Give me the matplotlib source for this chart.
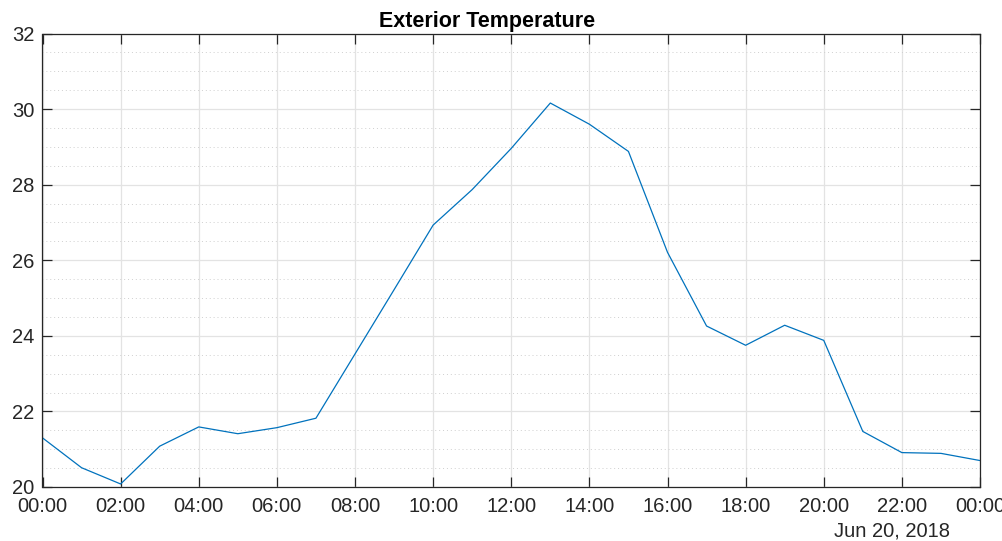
import datetime as dt
import matplotlib
matplotlib.use("Agg")
import matplotlib.pyplot as plt
import matplotlib.dates as mdates
from matplotlib.ticker import MultipleLocator

# hourly readings, Jun 20 2018 00:00 .. Jun 21 00:00
start = dt.datetime(2018, 6, 20, 0, 0)
hours = list(range(25))
temps = [21.30, 20.51, 20.08, 21.08, 21.59, 21.41, 21.57, 21.82, 23.52, 25.22,
         26.93, 27.87, 28.96, 30.16, 29.60, 28.88, 26.21, 24.26, 23.75, 24.28,
         23.88, 21.47, 20.91, 20.89, 20.70]
times = [start + dt.timedelta(hours=h) for h in hours]

plt.rcParams['font.family'] = ['Liberation Sans', 'DejaVu Sans']
axcol = '#262626'

fig = plt.figure(figsize=(10.03, 5.41), dpi=100)
ax = fig.add_axes([42.5 / 1003, 54 / 541, (980 - 42.5) / 1003, (487 - 33.5) / 541])

ax.plot(times, temps, color='#0072BD', linewidth=0.9)

ax.set_xlim(times[0], times[-1])
ax.set_ylim(20, 32)
ax.xaxis.set_major_locator(mdates.HourLocator(byhour=range(0, 24, 2)))
ax.xaxis.set_major_formatter(mdates.DateFormatter('%H:%M'))
ax.yaxis.set_major_locator(MultipleLocator(2))
ax.yaxis.set_minor_locator(MultipleLocator(0.5))

ax.grid(True, which='major', color='#e3e3e3', linewidth=0.9)
ax.grid(True, which='minor', axis='y', color='#cfcfcf', linestyle=(0, (1, 3)), linewidth=0.7)
ax.set_axisbelow(True)

for s in ax.spines.values():
    s.set_color(axcol)
    s.set_linewidth(0.9)
ax.tick_params(which='major', direction='in', length=7, width=0.9, color=axcol,
               top=True, right=True, labelsize=14.5, labelcolor=axcol)
ax.tick_params(axis='x', pad=7)
ax.tick_params(axis='y', pad=6)
ax.tick_params(which='minor', length=0, top=True, right=True)

ax.set_title('Exterior Temperature', fontsize=15.5, fontweight='bold', color='black',
             pad=5, x=0.474)
ax.text(0.968, -0.075, 'Jun 20, 2018', transform=ax.transAxes, ha='right', va='top',
        fontsize=14.5, color=axcol)

fig.savefig('out.png', dpi=100)
